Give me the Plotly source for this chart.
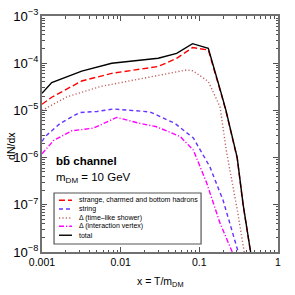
import plotly.graph_objects as go

# ---- data ----
x_total = [0.001, 0.00133, 0.0032, 0.0077, 0.030, 0.0515, 0.082, 0.13, 0.19, 0.218, 0.303, 0.361, 0.449]
y_total = [2.3e-5, 3.9e-5, 6.8e-5, 1.0e-4, 1.27e-4, 1.62e-4, 2.59e-4, 2.07e-4, 2.3e-5, 1.0e-5, 1.0e-6, 1.0e-7, 1.0e-8]

x_hadrons = [0.001, 0.00133, 0.0032, 0.0077, 0.030, 0.0515, 0.082, 0.13, 0.19, 0.218, 0.303, 0.361, 0.449]
y_hadrons = [1.35e-5, 1.9e-5, 4.2e-5, 6.1e-5, 8.5e-5, 1.27e-4, 2.14e-4, 1.9e-4, 2.2e-5, 9.6e-6, 9.6e-7, 9.6e-8, 9.6e-9]

x_string = [0.001, 0.0011, 0.0017, 0.003, 0.005, 0.0081, 0.0235, 0.049, 0.084, 0.136, 0.20, 0.312]
y_string = [2.2e-6, 2.8e-6, 5.3e-6, 9.0e-6, 9.5e-6, 1.07e-5, 9.3e-6, 5.3e-6, 2.6e-6, 6.4e-7, 1.26e-7, 1.0e-8]

x_delta_shower = [0.001, 0.0021, 0.0055, 0.0235, 0.042, 0.069, 0.083, 0.13, 0.183, 0.222, 0.303, 0.372]
y_delta_shower = [1.0e-5, 1.95e-5, 3.2e-5, 5.2e-5, 6.3e-5, 7.2e-5, 6.9e-5, 4.1e-5, 1.2e-5, 1.3e-6, 8.0e-8, 1.0e-8]

x_delta_vertex = [0.001, 0.0014, 0.0024, 0.0045, 0.0089, 0.0176, 0.0286, 0.057, 0.084, 0.124, 0.183, 0.262]
y_delta_vertex = [1.2e-6, 2.3e-6, 3.7e-6, 4.2e-6, 7.1e-6, 5.3e-6, 4.5e-6, 2.8e-6, 1.44e-6, 2.9e-7, 4.1e-8, 1.0e-8]

series_names = [
    "strange, charmed and bottom hadrons",
    "string",
    "\u0394 (time\u2013like shower)",
    "\u0394 (interaction vertex)",
    "total",
]

# ---- styles ----
styles = [
    dict(color="#ff0000", dash="6px,3px", width=1.4),
    dict(color="#6633ff", dash="4px,3px", width=1.4),
    dict(color="#c06060", dash="1.2px,2.2px", width=1.4),
    dict(color="#ff00ff", dash="5px,2px,1.2px,2px", width=1.4),
    dict(color="#000000", dash="solid", width=1.4),
]

data = [
    (x_hadrons, y_hadrons),
    (x_string, y_string),
    (x_delta_shower, y_delta_shower),
    (x_delta_vertex, y_delta_vertex),
    (x_total, y_total),
]

fig = go.Figure()
for (xs, ys), name, st in zip(data, series_names, styles):
    fig.add_trace(go.Scatter(x=xs, y=ys, mode="lines", name=name, line=st, showlegend=False,
                             hoverinfo="skip"))

FONT = "Liberation Sans, Arial, sans-serif"
axis_common = dict(
    type="log",
    dtick=1,
    automargin=False,
    showline=True,
    linecolor="#707070",
    linewidth=1.6,
    mirror="ticks",
    ticks="inside",
    ticklen=5,
    tickwidth=1,
    tickcolor="#505050",
    showgrid=False,
    zeroline=False,
    minor=dict(ticks="inside", ticklen=2.5, tickwidth=1, tickcolor="#505050", showgrid=False),
    tickfont=dict(family=FONT, size=10.5, color="#000"),
)

fig.update_xaxes(**axis_common, range=[-3, 0])
fig.update_yaxes(**axis_common, range=[-8, -3], exponentformat="power")

# ---- annotations ----
annotations = [
    dict(x=0.5, y=-0.127, xref="paper", yref="paper", xanchor="center", yanchor="middle",
         text="x = T/m<sub>DM</sub>", showarrow=False, font=dict(family=FONT, size=10.5, color="#000")),
    dict(x=-0.131, y=0.45, xref="paper", yref="paper", xanchor="center", yanchor="middle", textangle=-90,
         text="dN/dx", showarrow=False, font=dict(family=FONT, size=10.5, color="#000")),
    dict(x=0.051, y=0.386, xref="paper", yref="paper", xanchor="left", yanchor="middle",
         text="<b>bb\u0304 channel</b>", showarrow=False, font=dict(family=FONT, size=11.5, color="#000")),
    dict(x=0.051, y=0.314, xref="paper", yref="paper", xanchor="left", yanchor="middle",
         text="m<sub>DM</sub> = 10 GeV", showarrow=False, font=dict(family=FONT, size=11.5, color="#000")),
]

# manual legend
shapes = [dict(type="rect", xref="paper", yref="paper", x0=0.051, x1=0.674, y0=0.034, y1=0.25,
               line=dict(color="#555", width=1.2), fillcolor="white", layer="above")]
legend_y = [0.219, 0.182, 0.144, 0.109, 0.071]
for name, st, ly in zip(series_names, styles, legend_y):
    shapes.append(dict(type="line", xref="paper", yref="paper", x0=0.072, x1=0.127, y0=ly, y1=ly,
                       line=dict(color=st["color"], dash=st["dash"], width=1.4), layer="above"))
    annotations.append(dict(x=0.148, y=ly, xref="paper", yref="paper", xanchor="left", yanchor="middle",
                            text=name, showarrow=False, font=dict(family=FONT, size=7, color="#000")))

fig.update_layout(
    template="none",
    width=295, height=295,
    margin=dict(l=42, r=17, t=16, b=43, autoexpand=False),
    paper_bgcolor="white", plot_bgcolor="white",
    showlegend=False,
    hovermode=False,
    annotations=annotations,
    shapes=shapes,
    font=dict(family=FONT),
)

fig.write_html(
    "out.html",
    config={"displayModeBar": False, "staticPlot": True},
    post_script="document.body.style.margin='0';document.body.style.padding='0';document.body.style.overflow='hidden';",
)
